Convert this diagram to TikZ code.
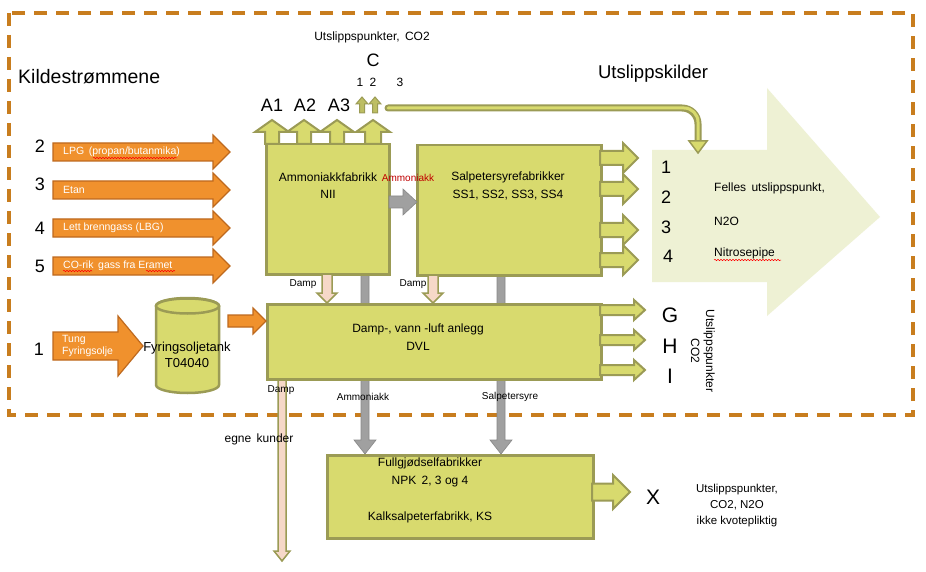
\documentclass[tikz,border=0pt]{standalone}
\usepackage{fontspec}
\setmainfont{Liberation Sans}
\usetikzlibrary{decorations.pathmorphing}
\definecolor{boxfill}{RGB}{216,218,110}
\definecolor{boxline}{RGB}{155,155,85}
\definecolor{orfill}{RGB}{240,145,45}
\definecolor{orline}{RGB}{190,105,30}
\definecolor{dashcol}{RGB}{200,125,30}
\definecolor{palecol}{RGB}{238,241,212}
\definecolor{pinkcol}{RGB}{246,216,200}
\definecolor{graycol}{RGB}{160,160,160}
\definecolor{redtxt}{RGB}{192,0,0}
% right arrow: style, x0, xtip, yc, shaft half, head half, head length
\newcommand\RArr[7]{\draw[#1] (#2,#4-#5) -- (#3-#7,#4-#5) -- (#3-#7,#4-#6) -- (#3,#4) -- (#3-#7,#4+#6) -- (#3-#7,#4+#5) -- (#2,#4+#5) -- cycle;}
% down arrow: style, y0, ytip, xc, shaft half, head half, head length
\newcommand\DArr[7]{\draw[#1] (#4-#5,#2) -- (#4-#5,#3-#7) -- (#4-#6,#3-#7) -- (#4,#3) -- (#4+#6,#3-#7) -- (#4+#5,#3-#7) -- (#4+#5,#2) -- cycle;}
% up arrow: style, y0, ytip, xc, shaft half, head half, head length
\newcommand\UArr[7]{\draw[#1] (#4-#5,#2) -- (#4-#5,#3+#7) -- (#4-#6,#3+#7) -- (#4,#3) -- (#4+#6,#3+#7) -- (#4+#5,#3+#7) -- (#4+#5,#2) -- cycle;}
\begin{document}
\begin{tikzpicture}[x=1pt,y=-1pt,
  box/.style={draw=boxline, fill=boxfill, line width=2.5pt, anchor=north west, inner sep=0pt},
  yarr/.style={draw=boxline, fill=boxfill, line width=2pt, line join=miter},
  oarr/.style={draw=orline, fill=orfill, line width=1.2pt},
  parr/.style={draw=boxline, fill=pinkcol, line width=1.5pt},
  garr/.style={draw=graycol!85!black, fill=graycol, line width=0.6pt},
  t/.style={inner sep=0pt, align=center, font=\fontsize{12}{14.5}\selectfont},
  ts/.style={inner sep=0pt, align=center, font=\fontsize{10}{12}\selectfont},
  tw/.style={inner sep=0pt, align=left, anchor=west, text=white, font=\fontsize{10.5}{12.5}\selectfont},
  tbig/.style={inner sep=0pt, font=\fontsize{18}{20}\selectfont},
  thuge/.style={inner sep=0pt, font=\fontsize{21}{24}\selectfont},
  squig/.style={draw=red, line width=0.5pt, decorate, decoration={snake, amplitude=0.7pt, segment length=3pt}}]
\useasboundingbox (0,0) rectangle (926,572);
\fill[white] (0,0) rectangle (926,572);
% dashed border
\draw[dashcol, line width=4pt, dash pattern=on 13pt off 9pt] (9,13) rectangle (913,415);
% pale big arrow
\fill[palecol] (652,150) -- (767,150) -- (767,88) -- (880,217) -- (767,316) -- (767,282) -- (652,282) -- cycle;
% gray product lines to fertilizer plant
\DArr{garr}{274}{454}{365}{4}{11}{14}
\DArr{garr}{274}{454}{501}{4}{11}{14}
% damp to customers
\DArr{parr}{378}{561}{282}{4}{8}{10}
% boxes
\node[box, minimum width=123pt, minimum height=130pt] (nii) at (265,143) {};
\node[box, minimum width=184pt, minimum height=130pt] (ss) at (416,144) {};
\node[box, minimum width=334pt, minimum height=75pt] (dvl) at (266,303) {};
\node[box, minimum width=266pt, minimum height=83pt] (npk) at (326,454) {};
% tank
\draw[draw=boxline, fill=boxfill, line width=2.5pt] (156,306) -- (156,385) arc[start angle=180, end angle=360, x radius=31.5pt, y radius=8pt] -- (219,306) arc[start angle=0, end angle=180, x radius=31.5pt, y radius=8pt] -- cycle;
\draw[draw=boxline, fill=boxfill, line width=2.5pt] (187.5,306) ellipse[x radius=31.5pt, y radius=7.5pt];
\node[t, font=\fontsize{13}{15.5}\selectfont] (tank) at (187,355) {Fyringsoljetank\\T04040};
% top emission arrows A1 A2 A3 C
\UArr{yarr}{144}{120}{272}{7}{17}{12}
\UArr{yarr}{144}{120}{304}{7}{17}{12}
\UArr{yarr}{144}{120}{337}{7}{17}{12}
\UArr{yarr}{144}{120}{373}{8}{17}{12}
\UArr{draw=boxline, fill=boxfill!55!boxline, line width=1pt}{113}{97}{362}{2.5}{6}{7}
\UArr{draw=boxline, fill=boxfill!55!boxline, line width=1pt}{113}{97}{375}{2.5}{6}{7}
% curved arrow to common stack
\coordinate (cstart) at (388,108);
\coordinate (cend) at (698,142);
\draw[boxline, line width=7pt, line cap=round, rounded corners=16pt] (cstart) -- (698,108) -- (cend);
\draw[boxfill, line width=3pt, line cap=round, rounded corners=14pt] (cstart) -- (698,108) -- (698,143);
\draw[draw=boxline, fill=boxfill, line width=1.5pt] (689,141) -- (707,141) -- (698,153) -- cycle;
% arrows from nitric acid plants
\RArr{yarr}{600}{638}{158}{7}{15}{15}
\RArr{yarr}{600}{638}{189}{7}{15}{15}
\RArr{yarr}{600}{638}{230}{7}{15}{15}
\RArr{yarr}{600}{638}{260}{7}{15}{15}
% arrows from DVL
\RArr{yarr}{600}{645}{310}{5}{10}{11}
\RArr{yarr}{600}{645}{340}{5}{10}{11}
\RArr{yarr}{600}{645}{370}{5}{10}{11}
% arrow from NPK
\RArr{yarr}{592}{630}{492}{8.5}{17}{17}
% damp arrows into DVL
\DArr{parr}{274}{303}{327}{5}{10}{10}
\DArr{parr}{275}{303}{433}{5}{10}{10}
% ammonia arrow
\RArr{garr}{389}{417}{202}{6}{13}{14}
% orange fuel arrows
\RArr{oarr}{53}{230}{152}{9}{17}{17}
\RArr{oarr}{53}{230}{190}{9}{17}{17}
\RArr{oarr}{53}{230}{228}{9}{17}{17}
\RArr{oarr}{53}{230}{266}{9}{17}{17}
\RArr{oarr}{53}{143}{346}{14}{30}{25}
\RArr{oarr}{228}{266}{321}{6}{13}{13}
% texts
\node[inner sep=0pt, anchor=west, font=\fontsize{19.5}{22}\selectfont] (kilde) at (18,77) {Kildestrømmene};
\node[inner sep=0pt, font=\fontsize{18.5}{21}\selectfont] (uskilder) at (653,74) {Utslippskilder};
\node[t] (uco2top) at (372,37) {Utslippspunkter,\, CO2};
\node[tbig] (C) at (373,60) {C};
\node[t] (c1) at (360,82) {1};
\node[t] (c2) at (373,82) {2};
\node[t] (c3) at (400,82) {3};
\node[tbig] (a1) at (272,105) {A1};
\node[tbig] (a2) at (305,105) {A2};
\node[tbig] (a3) at (339,105) {A3};
\node[tbig] (n2) at (40,146) {2};
\node[tbig] (n3) at (40,184) {3};
\node[tbig] (n4) at (40,228) {4};
\node[tbig] (n5) at (40,266) {5};
\node[tbig] (n1) at (39,349) {1};
\node[tw] (lpg) at (63,152) {LPG\, (propan/butanmika)};
\node[tw] (etan) at (63,190) {Etan};
\node[tw] (lbg) at (63,228) {Lett brenngass (LBG)};
\node[tw] (co) at (63,266) {CO-rik\, gass fra Eramet};
\node[tw] (tung) at (62,346) {Tung\\Fyringsolje};
\draw[squig] (93,158) -- (177,158);
\draw[squig] (63,271) -- (92,271);
\draw[squig] (146,271) -- (175,271);
\node[t] (niitxt) at (328,185.5) {Ammoniakkfabrikk\\[3pt]NII};
\node[t] (sstxt) at (508,186) {Salpetersyrefabrikker\\[3pt]SS1, SS2, SS3, SS4};
\node[ts, text=redtxt] (amred) at (408,178) {Ammoniakk};
\node[t] (dvltxt) at (418,337) {Damp-, vann -luft anlegg\\[3pt]DVL};
\node[ts] (damp1) at (303,284) {Damp};
\node[ts] (damp2) at (413,284) {Damp};
\node[ts] (damp3) at (281,390) {Damp};
\node[ts] (amlbl) at (363,397) {Ammoniakk};
\node[ts] (salbl) at (510,397) {Salpetersyre};
\node[t] (egne) at (259,439) {egne\, kunder};
\node[t] (npk1) at (430,463) {Fullgjødselfabrikker};
\node[t] (npk2) at (430,482) {NPK\, 2, 3 og 4};
\node[t] (npk3) at (430,517) {Kalksalpeterfabrikk, KS};
\node[thuge] (X) at (653,497) {X};
\node[t, font=\fontsize{11.5}{16}\selectfont] (xtxt) at (737,506) {Utslippspunkter,\\CO2, N2O\\ikke kvotepliktig};
\node[thuge] (G) at (670,315) {G};
\node[thuge] (H) at (670,346) {H};
\node[thuge] (I) at (670,376) {I};
\node[t, rotate=-90, font=\fontsize{12}{15}\selectfont] (ghitxt) at (703,351) {Utslippspunkter\\CO2};
\node[tbig] (p1) at (666,167) {1};
\node[tbig] (p2) at (666,197) {2};
\node[tbig] (p3) at (666,227) {3};
\node[tbig] (p4) at (668,256) {4};
\node[t, anchor=west] (felles) at (714,188) {Felles\, utslippspunkt,};
\node[t, anchor=west] (n2o) at (714,221) {N2O};
\node[t, anchor=west] (nitro) at (714,253) {Nitrosepipe};
\draw[squig] (714,260) -- (781,260);
\end{tikzpicture}
\end{document}
